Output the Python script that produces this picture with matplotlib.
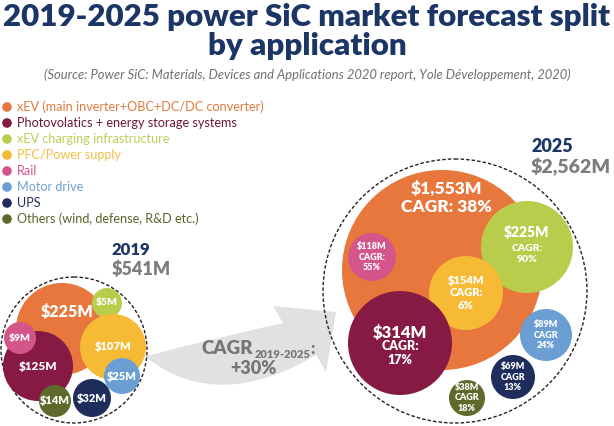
import matplotlib
matplotlib.use("Agg")
import matplotlib.pyplot as plt
from matplotlib.patches import Circle, PathPatch
from matplotlib.path import Path

# ---------------- data ----------------
categories = [
    "xEV (main inverter+OBC+DC/DC converter)",
    "Photovolatics + energy storage systems",
    "xEV charging infrastructure",
    "PFC/Power supply",
    "Rail",
    "Motor drive",
    "UPS",
    "Others (wind, defense, R&D etc.)",
]
values_2019 = [225, 125, 5, 107, 9, 25, 32, 14]
values_2025 = [1553, 314, 225, 154, 118, 89, 69, 38]
cagr_2025 = [38, 17, 90, 6, 55, 24, 13, 18]
cagr_sep = [":", ":", ":", ":", ":", "", "", ""]
total_2019 = 541
total_2025 = 2562
cagr_total = 30

# ---------------- style / layout ----------------
colors = ["#E8773D", "#861A42", "#B9CD4C", "#F7BA35", "#D4558A", "#6B9FD3", "#1F2D5C", "#5E6A2B"]
legend_text_colors = ["#E07A3F", "#6E1638", "#BCCF55", "#F4BE45", "#D0578A", "#72A0D2", "#1F2D5C", "#58652A"]
navy = "#1B3566"
gray = "#767676"
FONT = "Lato"

# bubble layout (pixel coordinates): center x, center y, radius, label fontsize
layout_2019 = [(62, 329, 46, 11.5), (38, 366, 35, 8.5), (107, 303, 15, 7.5), (113, 347, 33, 8),
               (20, 338, 16, 7.5), (122, 376, 18, 8), (92, 398, 19, 8), (55, 401, 16, 8)]
layout_2025 = [(442, 270, 100, 12.5), (400, 343, 52, 12), (527, 247, 46, 10), (466, 293, 37, 8),
               (372, 257, 24, 6.5), (546, 335, 26, 6.5), (513, 377, 22, 6.5), (467, 398, 18, 6.5)]
draw_order_2019 = [0, 2, 3, 1, 4, 5, 6, 7]
draw_order_2025 = [0, 2, 4, 3, 1, 5, 6, 7]

fig = plt.figure(figsize=(6.14, 4.26), dpi=100)
ax = fig.add_axes([0, 0, 1, 1])
ax.set_xlim(0, 614)
ax.set_ylim(426, 0)
ax.axis("off")

# ---------------- title ----------------
ax.text(307, 17, "2019-2025 power SiC market forecast split", ha="center", va="center",
        fontsize=22.5, fontweight="heavy", color=navy, family=FONT)
ax.text(307, 46, "by application", ha="center", va="center",
        fontsize=22.5, fontweight="heavy", color=navy, family=FONT)
ax.text(307, 75, "(Source: Power SiC: Materials, Devices and Applications 2020 report, Yole D\u00e9veloppement, 2020)",
        ha="center", va="center", fontsize=9.4, style="italic", color="#707070", family=FONT)

# ---------------- legend ----------------
for i, (cat, c, tc) in enumerate(zip(categories, colors, legend_text_colors)):
    y = 107 + i * 16
    ax.add_patch(Circle((7, y), 4.8, color=c, lw=0))
    ax.text(17, y, cat, ha="left", va="center", fontsize=9.1, color=tc, family=FONT)

# ---------------- arrow ----------------
verts = [(147, 356), (215, 338), (283, 323),
         (273, 306), (336, 312), (326, 372), (316, 355),
         (218, 413), (147, 358), (147, 356)]
codes = [Path.MOVETO, Path.CURVE3, Path.CURVE3,
         Path.LINETO, Path.LINETO, Path.LINETO, Path.LINETO,
         Path.CURVE3, Path.CURVE3, Path.CLOSEPOLY]
ax.add_patch(PathPatch(Path(verts, codes), facecolor="#E1E1E1", edgecolor="none", zorder=1))

t1 = ax.text(202, 354, "CAGR", ha="left", va="baseline", fontsize=13.5, fontweight="heavy",
             color=gray, family=FONT, zorder=5)
t2 = ax.annotate("2019-2025", xy=(1, 0), xycoords=t1, xytext=(0.5, -2), textcoords="offset points",
                 ha="left", va="bottom", fontsize=8, fontweight="heavy", color=gray, family=FONT, zorder=5)
ax.annotate(":", xy=(1, 0), xycoords=t2, xytext=(0, 2), textcoords="offset points",
            ha="left", va="bottom", fontsize=12, fontweight="heavy", color=gray, family=FONT, zorder=5)
ax.text(253, 368, f"+{cagr_total}%", ha="center", va="center", fontsize=13, fontweight="heavy",
        color=gray, family=FONT, zorder=5)

# ---------------- 2019 bubbles ----------------
ax.add_patch(Circle((74, 350), 73, fill=False, ls=(0, (2.5, 1.5)), lw=1, ec="#222222", zorder=2))
for i in draw_order_2019:
    x, y, r, fs = layout_2019[i]
    ax.add_patch(Circle((x, y), r, color=colors[i], lw=0, zorder=3))
for i in draw_order_2019:
    x, y, r, fs = layout_2019[i]
    ly = y - 17 if i == 0 else y
    lx = x + 5 if i == 0 else x
    ax.text(lx, ly, f"${values_2019[i]:,}M", ha="center", va="center", fontsize=fs,
            fontweight="heavy", color="white", family=FONT, zorder=6)
ax.text(112, 250, "2019", ha="left", va="center", fontsize=12, fontweight="heavy", color=navy, family=FONT)
ax.text(112, 269, f"${total_2019:,}M", ha="left", va="center", fontsize=13, fontweight="heavy",
        color="#7d7d7d", family=FONT)

# ---------------- 2025 bubbles ----------------
ax.add_patch(Circle((455, 291), 132, fill=False, ls=(0, (2.5, 1.5)), lw=1, ec="#222222", zorder=2))
for i in draw_order_2025:
    x, y, r, fs = layout_2025[i]
    ax.add_patch(Circle((x, y), r, color=colors[i], lw=0, zorder=3))
for i in draw_order_2025:
    x, y, r, fs = layout_2025[i]
    val = f"${values_2025[i]:,}M"
    cg = f"CAGR{cagr_sep[i]}"
    pct = f"{cagr_2025[i]}%"
    if i == 0:
        ax.text(446, 198, f"{val}\nCAGR{cagr_sep[i]} {pct}", ha="center", va="center", fontsize=fs,
                fontweight="heavy", color="white", family=FONT, linespacing=1.15, zorder=6)
    elif i == 1:
        ax.text(x, y - 10, val, ha="center", va="center", fontsize=fs, fontweight="heavy",
                color="white", family=FONT, zorder=6)
        ax.text(x, y + 10, f"{cg}\n{pct}", ha="center", va="center", fontsize=9, fontweight="heavy",
                color="white", family=FONT, linespacing=1.15, zorder=6)
    elif i == 2:
        ax.text(x, y - 15, val, ha="center", va="center", fontsize=fs, fontweight="heavy",
                color="white", family=FONT, zorder=6)
        ax.text(x, y + 7, f"{cg}\n{pct}", ha="center", va="center", fontsize=7.5, fontweight="heavy",
                color="white", family=FONT, linespacing=1.2, zorder=6)
    else:
        ax.text(x, y, f"{val}\n{cg}\n{pct}", ha="center", va="center", fontsize=fs, fontweight="heavy",
                color="white", family=FONT, linespacing=1.2, zorder=6)
ax.text(531, 147, "2025", ha="left", va="center", fontsize=13, fontweight="heavy", color=navy, family=FONT)
ax.text(531, 167, f"${total_2025:,}M", ha="left", va="center", fontsize=14, fontweight="heavy",
        color="#7d7d7d", family=FONT)

fig.savefig("out.png", dpi=100)
